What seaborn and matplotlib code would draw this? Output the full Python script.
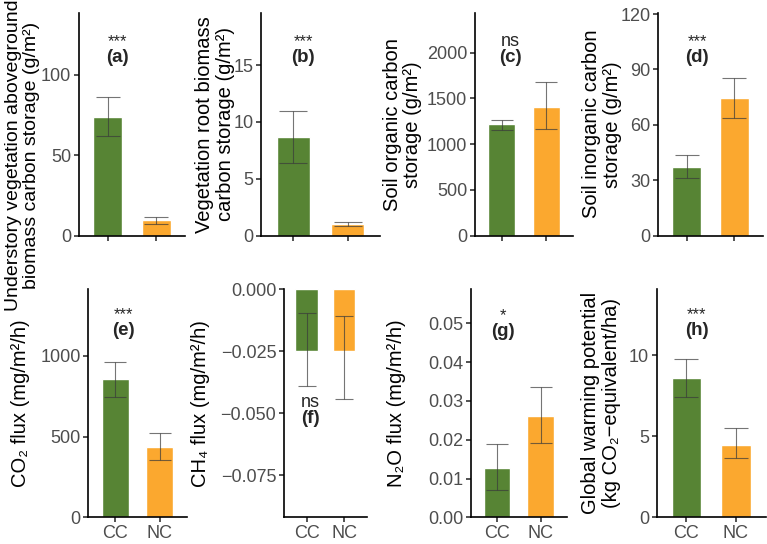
import numpy as np
import matplotlib
matplotlib.use("Agg")
import matplotlib.pyplot as plt
import seaborn as sns

# groups and colours
groups = ["CC", "NC"]
group_colors = ["#578434", "#FBA82F"]

# means with lower / upper ends of the error bars
agb_mean = [73.5, 9.8]
agb_lo = [61.7, 7.3]
agb_hi = [86.5, 11.8]

root_mean = [8.7, 1.0]
root_lo = [6.4, 0.8]
root_hi = [11.0, 1.2]

soc_mean = [1214, 1405]
soc_lo = [1152, 1160]
soc_hi = [1262, 1677]

sic_mean = [37.3, 74.5]
sic_lo = [30.9, 63.6]
sic_hi = [43.9, 85.3]

co2_mean = [857, 438]
co2_lo = [747, 353]
co2_hi = [964, 524]

ch4_mean = [-0.025, -0.025]
ch4_lo = [-0.0388, -0.0444]
ch4_hi = [-0.0094, -0.0107]

n2o_mean = [0.0126, 0.0261]
n2o_lo = [0.0070, 0.0191]
n2o_hi = [0.0188, 0.0337]

gwp_mean = [8.6, 4.45]
gwp_lo = [7.45, 3.65]
gwp_hi = [9.75, 5.5]

ylabels = [
    "Understory vegetation aboveground\nbiomass carbon storage (g/m²)",
    "Vegetation root biomass\ncarbon storage (g/m²)",
    "Soil organic carbon\nstorage (g/m²)",
    "Soil inorganic carbon\nstorage (g/m²)",
    "CO₂ flux (mg/m²/h)",
    "CH₄ flux (mg/m²/h)",
    "N₂O flux (mg/m²/h)",
    "Global warming potential\n(kg CO₂−equivalent/ha)",
]
signif = ["***", "***", "ns", "***", "***", "ns", "*", "***"]
letters = ["(a)", "(b)", "(c)", "(d)", "(e)", "(f)", "(g)", "(h)"]

panels = [
    (agb_mean, agb_lo, agb_hi),
    (root_mean, root_lo, root_hi),
    (soc_mean, soc_lo, soc_hi),
    (sic_mean, sic_lo, sic_hi),
    (co2_mean, co2_lo, co2_hi),
    (ch4_mean, ch4_lo, ch4_hi),
    (n2o_mean, n2o_lo, n2o_hi),
    (gwp_mean, gwp_lo, gwp_hi),
]

yticks = [
    [0, 50, 100],
    [0, 5, 10, 15],
    [0, 500, 1000, 1500, 2000],
    [0, 30, 60, 90, 120],
    [0, 500, 1000],
    [0, -0.025, -0.05, -0.075],
    [0, 0.01, 0.02, 0.03, 0.04, 0.05],
    [0, 5, 10],
]
yfmt = ["%d", "%d", "%d", "%d", "%d", "%.3f", "%.2f", "%d"]
ylims = [(0, 138.5), (0, 19.6), (0, 2432), (0, 120.6),
         (0, 1413), (-0.0919, 0), (0, 0.0588), (0, 14.08)]

# axes boxes in pixels: left, top, width, height
W, H = 767, 544
boxes = [
    (79, 13, 106, 222.5), (261, 13, 119, 222.5), (475, 13, 98, 222.5), (658, 13, 105, 222.5),
    (88.3, 289.3, 98.4, 228), (284, 289.3, 82.7, 228), (470.7, 289.3, 96, 228), (656.7, 289.3, 109, 228),
]
# centre of each y title (x in pixels, y in axes fraction)
label_x = [22.5, 215, 402.5, 602, 20, 200, 396, 601]
label_y = [0.36, 0.5, 0.5, 0.5, 0.5, 0.5, 0.5, 0.5]
label_size = [14, 14.5, 14.5, 14.5, 14.5, 14.5, 14.5, 14.5]
# annotation positions (x in category units, y in axes fraction)
ann_x = [0.19, 0.18, 0.19, 0.22, 0.18, 0.11, 0.14, 0.21]
ann_y = [0.80, 0.80, 0.80, 0.80, 0.82, 0.435, 0.815, 0.82]

sns.set_theme(style="ticks")
plt.rcParams["font.family"] = ["Liberation Sans", "DejaVu Sans"]

fig = plt.figure(figsize=(W / 100, H / 100), dpi=100)

for i, (mean, lo, hi) in enumerate(panels):
    l, t, w, h = boxes[i]
    ax = fig.add_axes([l / W, 1 - (t + h) / H, w / W, h / H])
    sns.barplot(x=groups, y=mean, hue=groups, palette=group_colors,
                width=0.6, saturation=1, legend=False, ax=ax)
    lo = np.array(lo)
    hi = np.array(hi)
    cap_pt = 0.25 * w / 2.2 * 0.72
    ax.errorbar(x=np.arange(len(groups)), y=(lo + hi) / 2, yerr=(hi - lo) / 2,
                fmt="none", ecolor="#3a3a3a", elinewidth=0.8, capsize=cap_pt,
                capthick=0.8, alpha=0.7, zorder=5)
    ax.set_xlim(-0.6, 1.6)
    ax.set_ylim(*ylims[i])
    ax.set_yticks(yticks[i])
    ax.set_yticklabels([yfmt[i] % v if yfmt[i] == "%d" else (yfmt[i] % v).replace("-", "−")
                        for v in yticks[i]])
    ax.set_xlabel("")
    ax.set_ylabel(ylabels[i], fontsize=label_size[i], color="black", linespacing=1.1, va="center")
    ax.yaxis.set_label_coords((label_x[i] - l) / w, label_y[i])
    if i < 4:
        ax.set_xticklabels([])
    else:
        ax.set_xticklabels(groups)
    ax.tick_params(axis="both", labelsize=13, labelcolor="#4d4d4d",
                   length=3.5, width=1.1, color="#222222", pad=2)
    for s in ["left", "bottom"]:
        ax.spines[s].set_linewidth(1.2)
        ax.spines[s].set_color("black")
    sns.despine(ax=ax)
    ax.text(ann_x[i], ann_y[i], letters[i], transform=ax.get_xaxis_transform(),
            ha="center", va="center", fontsize=13.5, fontweight="bold")
    ax.text(ann_x[i], ann_y[i] + 0.07, signif[i], transform=ax.get_xaxis_transform(),
            ha="center", va="center", fontsize=13 if signif[i] == "ns" else 12)

fig.savefig("out.png", dpi=100)
